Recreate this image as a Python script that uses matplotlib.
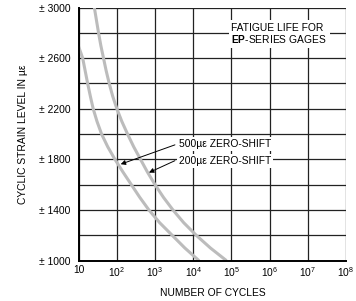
import matplotlib.pyplot as plt
import numpy as np

plt.rcParams['font.family'] = ['Liberation Sans', 'DejaVu Sans']
plt.rcParams['mathtext.fontset'] = 'custom'
plt.rcParams['mathtext.rm'] = 'Liberation Sans'
plt.rcParams['mathtext.bf'] = 'Liberation Sans:bold'

# strain levels (micro-strain) and log10 of cycles
strain_500 = [2690, 2600, 2500, 2400, 2300, 2200, 2100, 2000, 1900, 1800,
              1700, 1600, 1500, 1400, 1300, 1200, 1100, 1000]
logn_500 = [1.00, 1.105, 1.17, 1.235, 1.305, 1.38, 1.48, 1.60, 1.76, 1.95,
            2.16, 2.38, 2.60, 2.84, 3.12, 3.45, 3.78, 4.15]
strain_200 = [3000, 2900, 2800, 2700, 2600, 2500, 2400, 2300, 2200, 2100, 2000,
              1900, 1800, 1700, 1600, 1500, 1400, 1300, 1200, 1100, 1000]
logn_200 = [1.41, 1.465, 1.52, 1.58, 1.65, 1.72, 1.80, 1.89, 2.00, 2.13, 2.28,
            2.44, 2.62, 2.80, 3.00, 3.22, 3.47, 3.75, 4.08, 4.45, 4.87]

y_ticks = [1000, 1400, 1800, 2200, 2600, 3000]
y_labels = ["\u00b1 1000", "\u00b1 1400", "\u00b1 1800", "\u00b1 2200", "\u00b1 2600", "\u00b1 3000"]
x_ticks = [10, 1e2, 1e3, 1e4, 1e5, 1e6, 1e7, 1e8]
x_labels = ["10", "$10^{2}$", "$10^{3}$", "$10^{4}$", "$10^{5}$", "$10^{6}$", "$10^{7}$", "$10^{8}$"]

fs = 7.4

fig = plt.figure(figsize=(3.56, 3.01), dpi=100)
ax = fig.add_axes([0.221, 0.134, 0.751, 0.841])

ax.set_xscale('log')
ax.set_xlim(10, 1e8)
ax.set_ylim(1000, 3000)

for x in x_ticks:
    ax.axvline(x, color='#222222', lw=0.9, zorder=1)
for y in range(1000, 3001, 200):
    ax.axhline(y, color='#222222', lw=0.9, zorder=1)

ax.plot(10 ** np.array(logn_500), strain_500, color='#bcbcbc', lw=2.2, zorder=2, solid_capstyle='butt')
ax.plot(10 ** np.array(logn_200), strain_200, color='#bcbcbc', lw=2.2, zorder=2, solid_capstyle='butt')

for s in ['top', 'right']:
    ax.spines[s].set_visible(False)
for s in ['left', 'bottom']:
    ax.spines[s].set_linewidth(1.4)
    ax.spines[s].set_zorder(3)

ax.set_xticks(x_ticks)
ax.set_xticklabels(x_labels, fontsize=fs)
ax.set_yticks(y_ticks)
ax.set_yticklabels(y_labels, fontsize=fs)
ax.minorticks_off()
ax.tick_params(axis='x', length=0, pad=3)
ax.tick_params(axis='y', length=0, pad=6)

ax.set_xlabel("NUMBER OF CYCLES", fontsize=fs, labelpad=7)
ax.set_ylabel("CYCLIC STRAIN LEVEL IN \u00b5\u03b5", fontsize=fs, labelpad=8)

box = dict(facecolor='white', edgecolor='none', pad=1.5)
ax.text(10 ** 5.0, 2790, "FATIGUE LIFE FOR\n$\\mathbf{EP}$-SERIES GAGES", fontsize=fs,
        ha='left', va='center', linespacing=1.0, bbox=dict(facecolor='white', edgecolor='none', pad=2.0), zorder=4)

ax.text(10 ** 3.62, 1920, "500\u00b5\u03b5 ZERO-SHIFT", fontsize=fs, ha='left', va='center', bbox=box, zorder=4)
ax.text(10 ** 3.62, 1785, "200\u00b5\u03b5 ZERO-SHIFT", fontsize=fs, ha='left', va='center', bbox=box, zorder=4)

arrow = dict(arrowstyle='-|>', color='black', lw=0.7, mutation_scale=7, shrinkA=0, shrinkB=0)
ax.annotate("", xy=(10 ** 2.10, 1762), xytext=(10 ** 3.52, 1915), arrowprops=arrow, zorder=5)
ax.annotate("", xy=(10 ** 2.84, 1696), xytext=(10 ** 3.52, 1790), arrowprops=arrow, zorder=5)

fig.savefig("out.png", dpi=100)
